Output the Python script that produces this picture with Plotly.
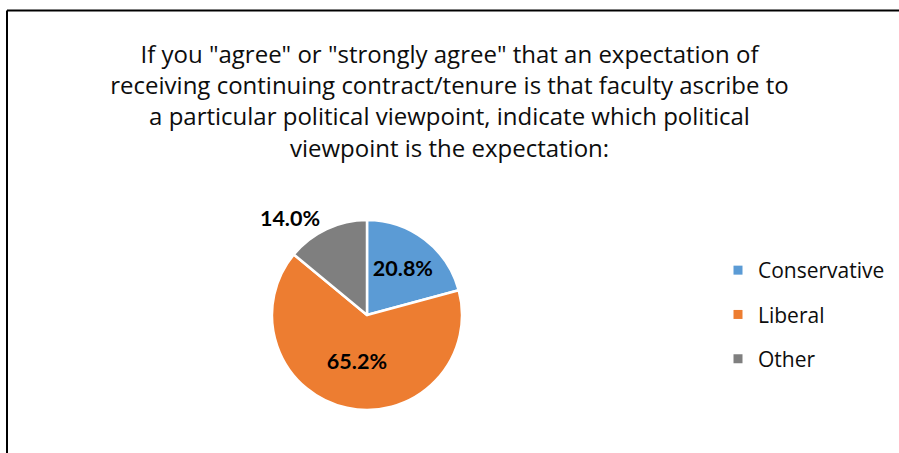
import plotly.graph_objects as go

# Survey answers: expected political viewpoint
labels = ["Conservative", "Liberal", "Other"]
shares = [20.8, 65.2, 14.0]
colors = ["#5B9BD5", "#ED7D31", "#7F7F7F"]
text_pos = ["inside", "inside", "outside"]

title_lines = [
    'If you "agree" or "strongly agree" that an expectation of',
    "receiving continuing contract/tenure is that faculty ascribe to",
    "a particular political viewpoint, indicate which political",
    "viewpoint is the expectation:",
]

W, H = 899, 453
TEXT_FONT = "Open Sans, Calibri, sans-serif"
LABEL_FONT = "Lato, Calibri, sans-serif"

fig = go.Figure()

fig.add_trace(go.Pie(
    labels=labels,
    values=shares,
    sort=False,
    direction="clockwise",
    rotation=0,
    marker=dict(colors=colors, line=dict(color="white", width=2.5)),
    texttemplate="%{value:.1f}%",
    textposition=text_pos,
    textfont=dict(family=LABEL_FONT, size=21.5, color="#000000", weight="bold"),
    insidetextorientation="horizontal",
    hoverinfo="label+percent",
    showlegend=False,
    domain=dict(x=[(367 - 95) / W, (367 + 95) / W],
                y=[(H - 315 - 95) / H, (H - 315 + 95) / H]),
))

# Legend entries with small square swatches, one group each for spacing
for name, col in zip(labels, colors):
    fig.add_trace(go.Scatter(
        x=[None], y=[None], mode="markers", name=name,
        marker=dict(symbol="square", size=9, color=col),
        legendgroup=name, showlegend=True,
    ))

fig.update_layout(
    width=W, height=H,
    margin=dict(l=0, r=0, t=0, b=0),
    paper_bgcolor="white",
    plot_bgcolor="white",
    xaxis=dict(visible=False),
    yaxis=dict(visible=False),
    title=dict(
        text="<br>".join(title_lines),
        x=0.5, xanchor="center",
        y=1 - 63 / H, yanchor="top",
        font=dict(family=TEXT_FONT, size=24, color="#0d0d0d"),
    ),
    legend=dict(
        x=718 / W, xanchor="left",
        y=1 - 250 / H, yanchor="top",
        font=dict(family=TEXT_FONT, size=21, color="#0d0d0d"),
        tracegroupgap=14,
        itemwidth=30,
        bgcolor="rgba(0,0,0,0)",
    ),
    shapes=[
        dict(type="line", xref="paper", yref="paper",
             x0=7 / W, x1=7 / W, y0=0, y1=1 - 10.5 / H,
             line=dict(color="black", width=2)),
        dict(type="line", xref="paper", yref="paper",
             x0=7 / W, x1=1, y0=1 - 10.5 / H, y1=1 - 10.5 / H,
             line=dict(color="black", width=2)),
    ],
)

fig.write_html("out.html")
